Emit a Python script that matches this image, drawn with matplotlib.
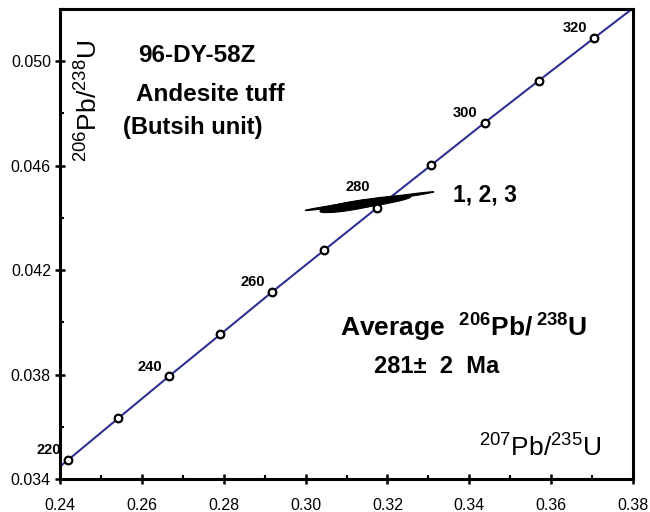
import numpy as np
import matplotlib
matplotlib.use("Agg")
import matplotlib.pyplot as plt
from matplotlib.patches import Ellipse
import matplotlib.transforms as transforms
from matplotlib.ticker import MultipleLocator, FixedLocator, FormatStrFormatter

plt.rcParams['font.family'] = ['Liberation Sans', 'DejaVu Sans']
plt.rcParams['mathtext.fontset'] = 'custom'
plt.rcParams['mathtext.rm'] = 'Liberation Sans'
plt.rcParams['mathtext.bf'] = 'Liberation Sans:bold'

# concordia points (207Pb/235U, 206Pb/238U)
ages = [220, 230, 240, 250, 260, 270, 280, 290, 300, 310, 320]
x_conc = [0.2419, 0.2542, 0.2666, 0.2792, 0.2918, 0.3046, 0.3175, 0.3306, 0.3437, 0.3570, 0.3705]
y_conc = [0.03472, 0.03632, 0.03793, 0.03954, 0.04116, 0.04277, 0.04439, 0.04601, 0.04764, 0.04926, 0.05089]
# curve ends (run off the axes)
x_line = [0.2380] + x_conc + [0.3840]
y_line = [0.03423] + y_conc + [0.05251]
labelled = [220, 240, 260, 280, 300, 320]

# analyses 1, 2, 3: x, sx, y, sy, rho
an_x = [0.3156, 0.3147, 0.3115]
an_sx = [0.0157, 0.0110, 0.0080]
an_y = [0.04464, 0.04456, 0.04446]
an_sy = [0.00036, 0.00029, 0.00026]
an_rho = [0.987, 0.86, 0.80]

fig = plt.figure(figsize=(6.5, 5.12), dpi=100)
ax = fig.add_axes([0.0923, 0.0645, 0.8817, 0.918])

ax.plot(x_line, y_line, color='#2e3192', lw=1.5, zorder=2)
ax.plot(x_conc, y_conc, 'o', ms=5.5, mfc='white', mec='black', mew=1.6, zorder=4)

for a, xv, yv in zip(ages, x_conc, y_conc):
    if a in labelled:
        off = (-14, 15) if a == 280 else (-14, 7)
        ax.annotate(str(a), (xv, yv), xytext=off, textcoords='offset points',
                    ha='center', va='center', fontsize=10.5, fontweight='bold')

for mx, sx, my, sy, r in zip(an_x, an_sx, an_y, an_sy, an_rho):
    e = Ellipse((0, 0), width=2 * np.sqrt(1 + r), height=2 * np.sqrt(1 - r),
                facecolor='black', edgecolor='black', lw=0.8, zorder=3)
    tr = transforms.Affine2D().rotate_deg(45).scale(sx, sy).translate(mx, my)
    e.set_transform(tr + ax.transData)
    ax.add_patch(e)

ax.set_xlim(0.24, 0.38)
ax.set_ylim(0.034, 0.052)
ax.xaxis.set_major_locator(MultipleLocator(0.02))
ax.xaxis.set_minor_locator(MultipleLocator(0.01))
ax.yaxis.set_major_locator(FixedLocator([0.034, 0.038, 0.042, 0.046, 0.050]))
ax.yaxis.set_minor_locator(FixedLocator([0.036, 0.040, 0.044, 0.048, 0.052]))
ax.xaxis.set_major_formatter(FormatStrFormatter('%.2f'))
ax.yaxis.set_major_formatter(FormatStrFormatter('%.3f'))
ax.tick_params(which='major', direction='inout', length=7, width=1.8, labelsize=11.5)
ax.tick_params(axis='x', which='major', pad=10)
ax.tick_params(axis='y', which='major', pad=3)
ax.tick_params(which='minor', direction='in', length=3, width=1.5)
for s in ax.spines.values():
    s.set_linewidth(2.2)

ax.text(0.136, 0.902, '96-DY-58Z', transform=ax.transAxes, fontsize=17.5, fontweight='bold', va='center')
ax.text(0.133, 0.817, 'Andesite tuff', transform=ax.transAxes, fontsize=17.5, fontweight='bold', va='center')
ax.text(0.110, 0.747, '(Butsih unit)', transform=ax.transAxes, fontsize=17, fontweight='bold', va='center')
ax.text(0.686, 0.604, '1, 2, 3', transform=ax.transAxes, fontsize=16.5, fontweight='bold', va='center')
ax.text(0.489, 0.302, r'Average  $\mathbf{^{206}Pb/\,^{238}U}$', transform=ax.transAxes,
        fontsize=19, fontweight='bold', va='baseline')
ax.text(0.658, 0.2255, '281±  2  Ma', transform=ax.transAxes, fontsize=17, fontweight='bold',
        va='baseline', ha='center')
ax.text(0.049, 0.805, r'$^{206}$Pb/$^{238}$U', transform=ax.transAxes, fontsize=19,
        rotation=90, va='center', ha='center')
ax.text(0.838, 0.068, r'$^{207}$Pb/$^{235}$U', transform=ax.transAxes, fontsize=19,
        va='center', ha='center')

fig.savefig('out.png', dpi=100)
